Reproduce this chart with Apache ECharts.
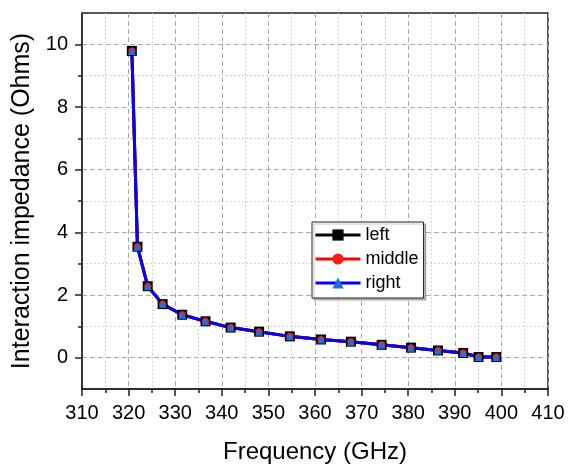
<!DOCTYPE html>
<html>
<head>
<meta charset="utf-8">
<script src="https://cdn.jsdelivr.net/npm/echarts@6/dist/echarts.min.js"></script>
<style>
  html, body { margin: 0; padding: 0; background: #fff; }
  #chart { width: 569px; height: 469px; }
</style>
</head>
<body>
<div id="chart"></div>
<script>
// values
const freq = [320.7, 321.9, 324.1, 327.3, 331.5, 336.5, 341.9, 348.0, 354.6, 361.3, 367.7, 374.3, 380.6, 386.4, 391.8, 395.1, 398.9]
const leftImp = [9.79, 3.54, 2.28, 1.71, 1.37, 1.16, 0.96, 0.83, 0.68, 0.58, 0.51, 0.41, 0.32, 0.23, 0.15, 0.02, 0.02]
const middleImp = [9.79, 3.54, 2.28, 1.71, 1.37, 1.16, 0.96, 0.83, 0.68, 0.58, 0.51, 0.41, 0.32, 0.23, 0.15, 0.02, 0.02]
const rightImp = [9.79, 3.54, 2.28, 1.71, 1.37, 1.16, 0.96, 0.83, 0.68, 0.58, 0.51, 0.41, 0.32, 0.23, 0.15, 0.02, 0.02]
const seriesNames = ['left', 'middle', 'right']
const yMajorTicks = [0, 2, 4, 6, 8, 10]
const yMinorTicks = [1, 3, 5, 7, 9]

const pairs = (ys) => freq.map((x, i) => [x, ys[i]])

const font = 'Arial, "Liberation Sans", sans-serif'
const axisColor = '#222'
const majorGrid = { color: '#aaaaaa', width: 1, type: [5, 3] }
const minorGrid = { color: '#d4d4d4', width: 1, type: [2, 2] }

const chart = echarts.init(document.getElementById('chart'))

const option = {
  backgroundColor: '#fff',
  animation: false,
  grid: {
    left: 82, right: 21, top: 13, bottom: 79,
    show: true,
    borderColor: axisColor,
    borderWidth: 1.5
  },
  legend: {
    orient: 'vertical',
    left: 312,
    top: 222,
    data: seriesNames,
    backgroundColor: '#fff',
    borderColor: axisColor,
    borderWidth: 1,
    padding: [4, 5, 6, 2],
    itemWidth: 45,
    itemHeight: 14,
    itemGap: 6,
    lineStyle: { width: 3 },
    shadowColor: 'rgba(0,0,0,0.25)',
    shadowOffsetX: 2,
    shadowOffsetY: 2,
    shadowBlur: 1,
    textStyle: { fontFamily: font, fontSize: 18, color: '#000', lineHeight: 18 }
  },
  xAxis: {
    type: 'value',
    min: 310,
    max: 410,
    interval: 10,
    name: 'Frequency (GHz)',
    nameLocation: 'middle',
    nameGap: 51,
    nameTextStyle: { fontFamily: font, fontSize: 24, color: '#000' },
    axisLine: { onZero: false, lineStyle: { color: axisColor, width: 1.5 } },
    axisTick: { show: true, length: 7, inside: false, lineStyle: { color: axisColor, width: 1.5 } },
    minorTick: { show: true, splitNumber: 2, length: 4, lineStyle: { color: axisColor, width: 1.5 } },
    axisLabel: { fontFamily: font, fontSize: 20, color: '#000', margin: 14 },
    splitLine: { show: true, lineStyle: majorGrid },
    minorSplitLine: { show: true, lineStyle: minorGrid }
  },
  yAxis: [
    {
      type: 'value',
      min: -1,
      max: 11,
      interval: 1,
      position: 'left',
      name: 'Interaction impedance (Ohms)',
      nameLocation: 'middle',
      nameGap: 43,
      nameTextStyle: { fontFamily: font, fontSize: 25, color: '#000' },
      axisLine: { show: true, onZero: false, lineStyle: { color: axisColor, width: 1.5 } },
      axisTick: { show: true, length: 7, customValues: yMajorTicks, lineStyle: { color: axisColor, width: 1.5 } },
      axisLabel: { fontFamily: font, fontSize: 20, color: '#000', margin: 14, customValues: yMajorTicks },
      splitLine: { show: true, lineStyle: majorGrid }
    },
    {
      type: 'value',
      min: -1,
      max: 11,
      interval: 1,
      position: 'left',
      offset: 0,
      axisLine: { show: false, onZero: false },
      axisTick: { show: true, length: 4, customValues: yMinorTicks, lineStyle: { color: axisColor, width: 1.5 } },
      axisLabel: { show: false },
      splitLine: { show: true, lineStyle: minorGrid }
    }
  ],
  series: [
    {
      name: 'left',
      type: 'line',
      data: pairs(leftImp),
      symbol: 'rect',
      symbolSize: 10,
      itemStyle: { color: '#000' },
      lineStyle: { color: '#000', width: 3 }
    },
    {
      name: 'middle',
      type: 'line',
      data: pairs(middleImp),
      symbol: 'circle',
      symbolSize: 7,
      itemStyle: { color: '#ff1a1a' },
      lineStyle: { color: '#ff0000', width: 3 }
    },
    {
      name: 'right',
      type: 'line',
      data: pairs(rightImp),
      symbol: 'triangle',
      symbolSize: 8,
      itemStyle: { color: '#1f6fe0' },
      lineStyle: { color: '#0000ff', width: 3 }
    }
  ]
}

chart.setOption(option)
</script>
</body>
</html>
